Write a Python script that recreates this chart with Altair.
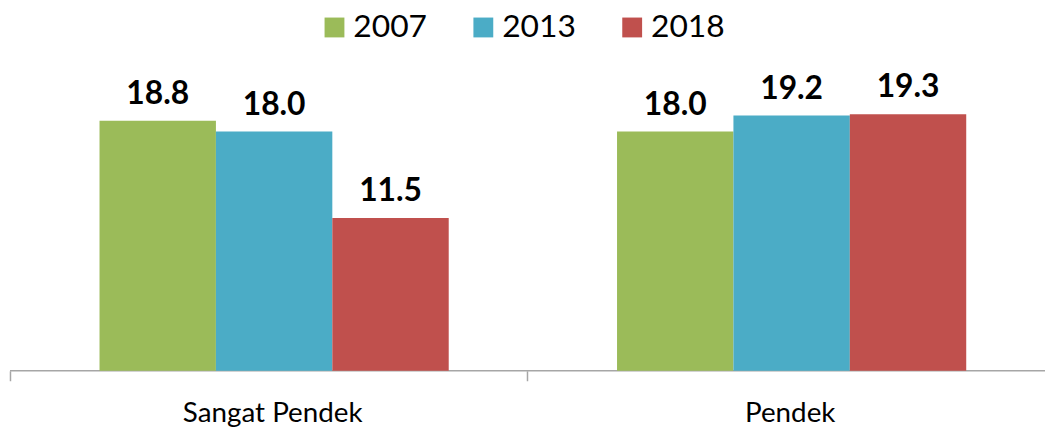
import altair as alt
import pandas as pd

categories = ["Sangat Pendek", "Pendek"]
years = ["2007", "2013", "2018"]
values_2007 = [18.8, 18.0]
values_2013 = [18.0, 19.2]
values_2018 = [11.5, 19.3]
colors = ["#9BBB59", "#4BACC6", "#C0504D"]
baseline_value = [0]

rows = []
for yr, vals in zip(years, [values_2007, values_2013, values_2018]):
    for cat, v in zip(categories, vals):
        rows.append({"category": cat, "year": yr, "value": v})
df = pd.DataFrame(rows)
base_df = pd.DataFrame({"value": baseline_value})

x = alt.X(
    "category:N",
    sort=categories,
    scale=alt.Scale(paddingInner=0, paddingOuter=0),
    axis=alt.Axis(
        title=None, labelAngle=0, labelFontSize=28, labelFont="Lato",
        labelColor="black", domain=False, labelLimit=500, labelOffset=4,
        tickColor="#A6A6A6", tickSize=10, tickWidth=1.5, bandPosition=0,
        labelPadding=19,
    ),
)
xo = alt.XOffset("year:N", sort=years,
                 scale=alt.Scale(paddingInner=0, paddingOuter=0.723, align=0.532))
y = alt.Y("value:Q", scale=alt.Scale(domain=[0, 25]), axis=None)

baseline = alt.Chart(base_df).mark_rule(color="#A6A6A6", strokeWidth=1.5).encode(
    y=y
)

bars = alt.Chart(df).mark_bar().encode(
    x=x, xOffset=xo, y=y,
    color=alt.Color(
        "year:N", sort=years,
        scale=alt.Scale(domain=years, range=colors),
        title=None,
        legend=alt.Legend(
            orient="none", legendX=311, legendY=-27, direction="horizontal",
            symbolType="square", symbolSize=400, symbolStrokeWidth=0,
            labelFontSize=32, labelFont="Lato", labelColor="black",
            labelOffset=3, columnPadding=40, padding=0,
        ),
    ),
)

labels = alt.Chart(df).mark_text(
    fontSize=32, fontWeight="bold", font="Lato", baseline="alphabetic",
    dy=-17, color="black",
).encode(x=x, xOffset=xo, y=y, text=alt.Text("value:Q", format=".1f"))

chart = alt.layer(baseline, bars, labels).properties(
    width=1043, height=335,
    padding={"left": 2, "right": 0, "top": 29, "bottom": 57},
    autosize=alt.AutoSizeParams(type="none"),
).configure_view(stroke=None)

chart.save("out.html", embed_options={"renderer": "svg", "actions": False})
